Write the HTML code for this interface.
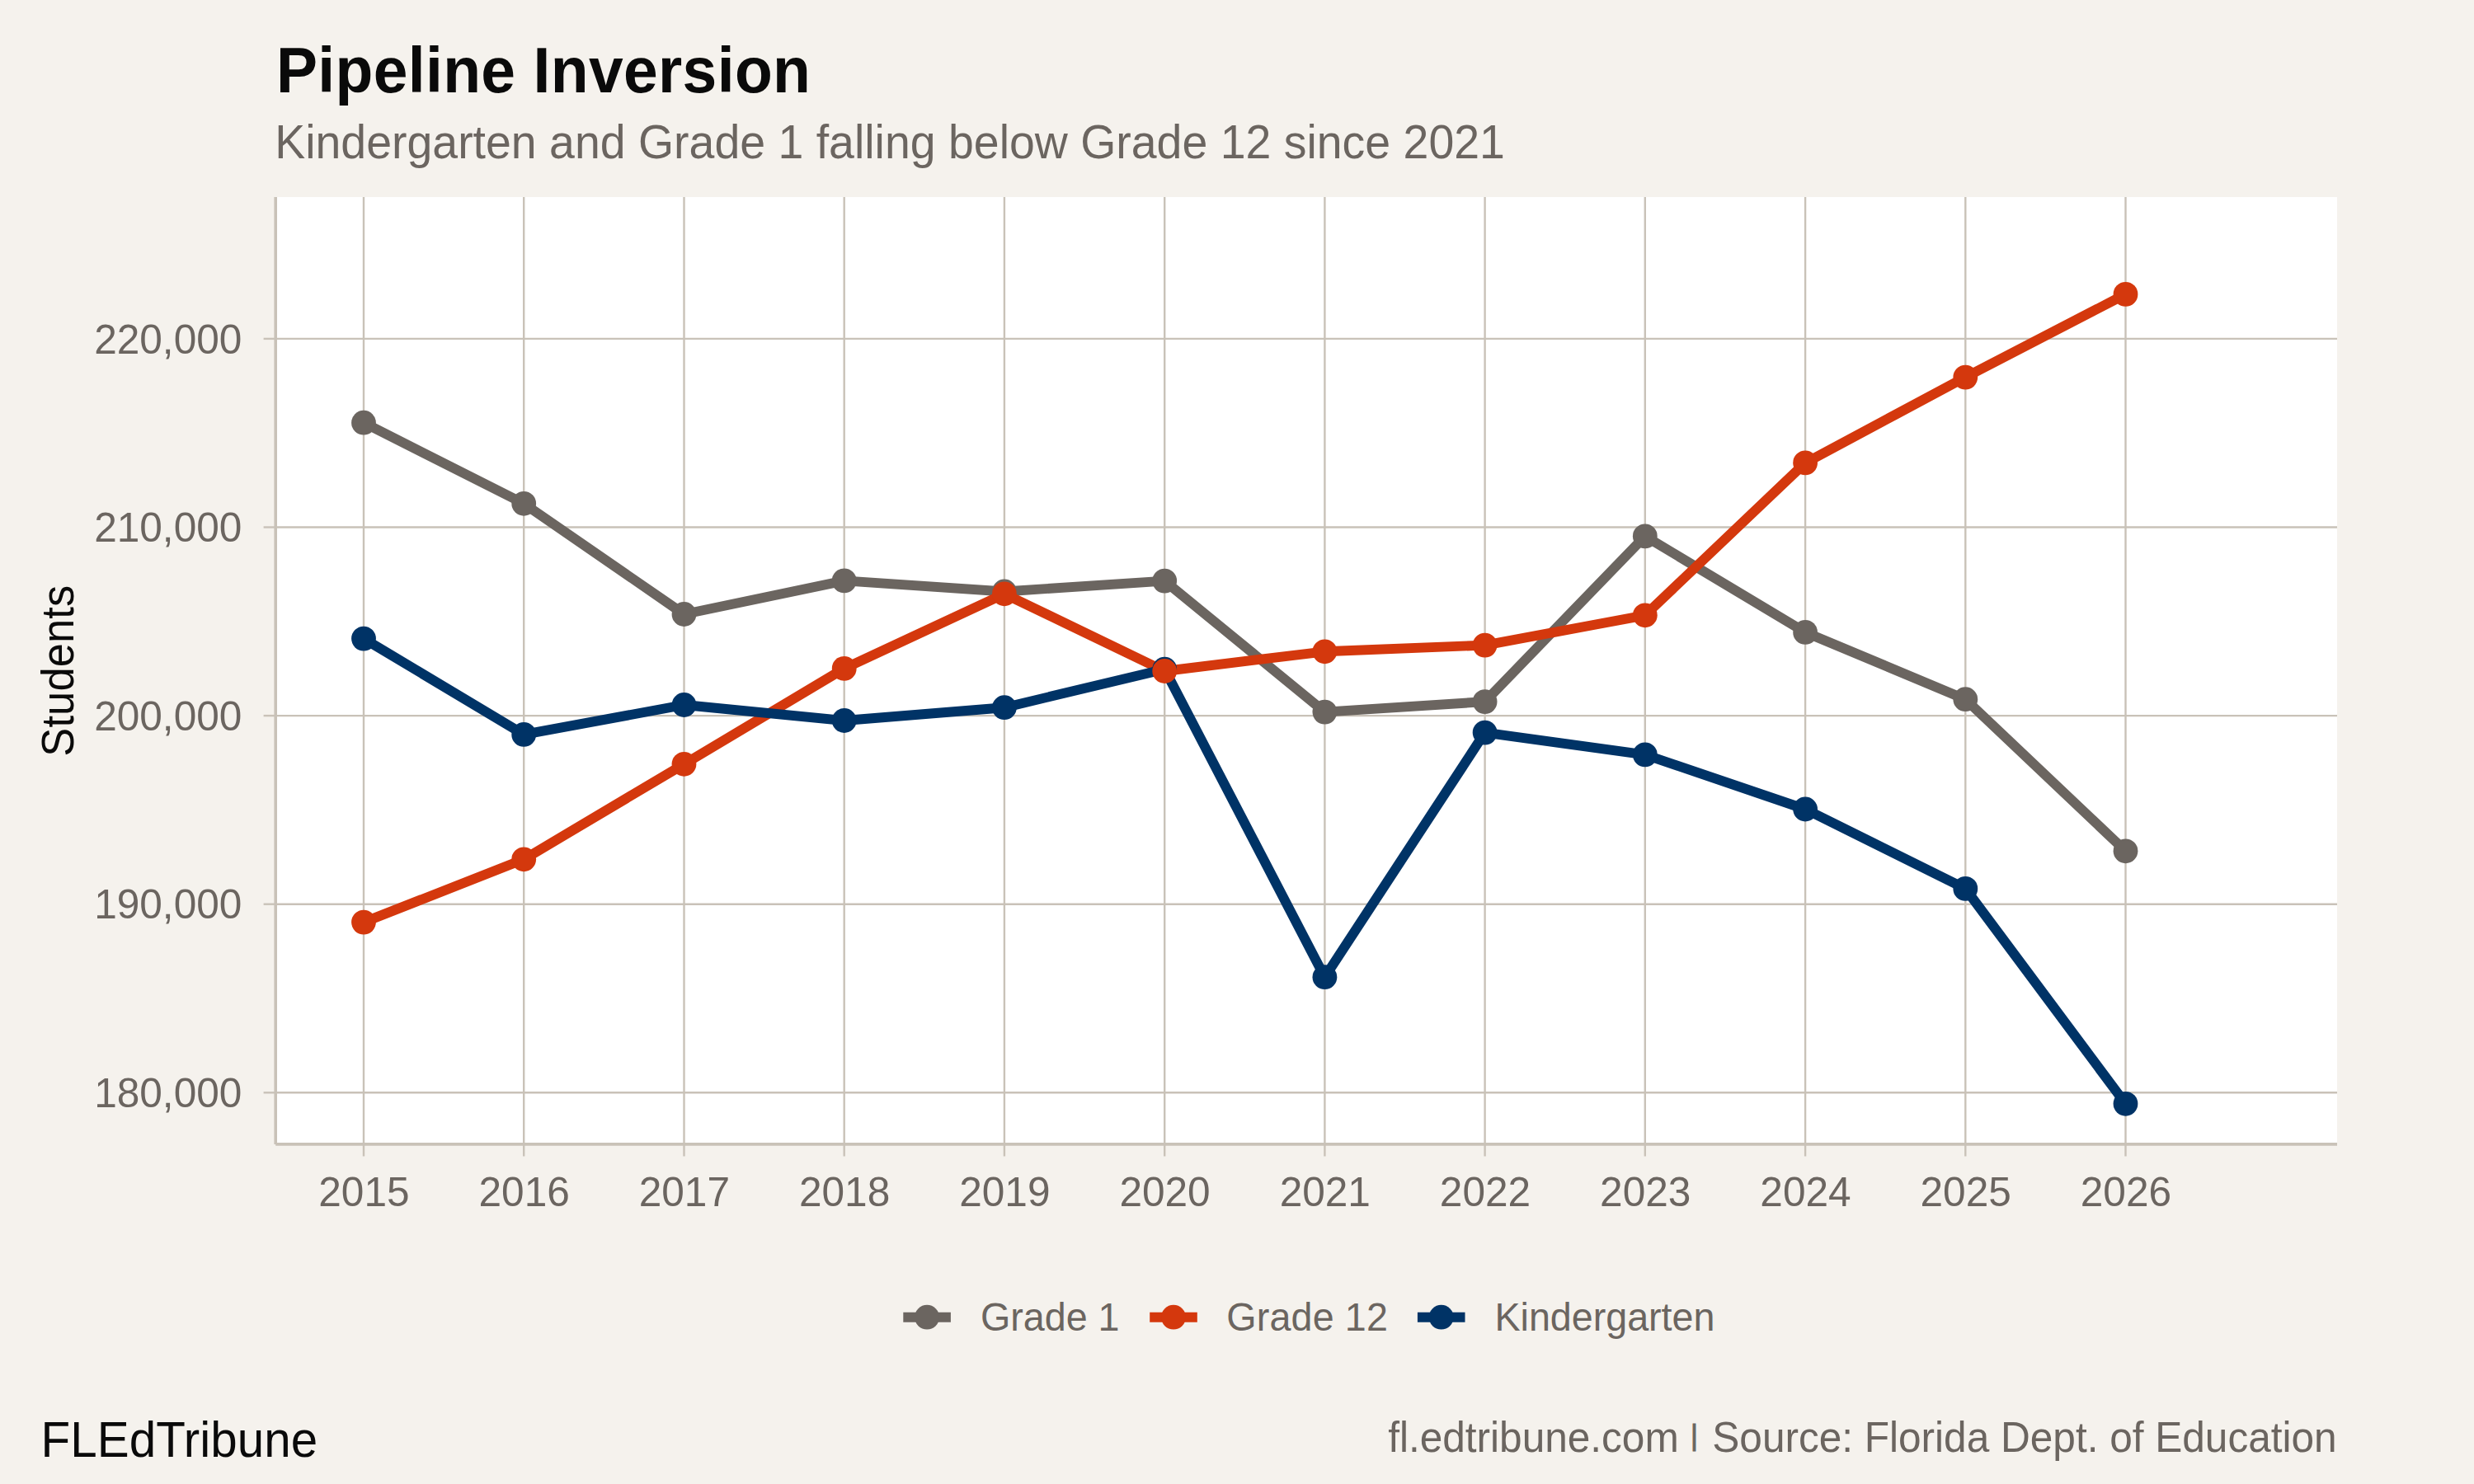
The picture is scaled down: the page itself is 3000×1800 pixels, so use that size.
<!DOCTYPE html>
<html lang="en"><head><meta charset="utf-8"><title>Pipeline Inversion</title>
<style>
html,body{margin:0;padding:0;background:#F5F2ED;}
body{width:3000px;height:1800px;overflow:hidden;font-family:"Liberation Sans", Arial, Helvetica, sans-serif;}
svg{display:block;position:absolute;left:0;top:0;}
text{font-family:"Liberation Sans", Arial, Helvetica, sans-serif;white-space:pre;}
</style></head><body>
<svg width="3000" height="1800" viewBox="0 0 3000 1800">
<rect x="0" y="0" width="3000" height="1800" fill="#F5F2ED"/>
<rect x="334.2" y="239.0" width="2499.8" height="1148.9" fill="#FFFFFF"/>

<g stroke="#C9C2B8" stroke-width="2.4" fill="none">
<line x1="334.2" x2="2834.0" y1="410.9" y2="410.9"/>
<line x1="334.2" x2="2834.0" y1="639.5" y2="639.5"/>
<line x1="334.2" x2="2834.0" y1="868.1" y2="868.1"/>
<line x1="334.2" x2="2834.0" y1="1096.7" y2="1096.7"/>
<line x1="334.2" x2="2834.0" y1="1325.3" y2="1325.3"/>
<line x1="441.0" x2="441.0" y1="239.0" y2="1387.9"/>
<line x1="635.2" x2="635.2" y1="239.0" y2="1387.9"/>
<line x1="829.5" x2="829.5" y1="239.0" y2="1387.9"/>
<line x1="1023.7" x2="1023.7" y1="239.0" y2="1387.9"/>
<line x1="1217.9" x2="1217.9" y1="239.0" y2="1387.9"/>
<line x1="1412.2" x2="1412.2" y1="239.0" y2="1387.9"/>
<line x1="1606.4" x2="1606.4" y1="239.0" y2="1387.9"/>
<line x1="1800.6" x2="1800.6" y1="239.0" y2="1387.9"/>
<line x1="1994.8" x2="1994.8" y1="239.0" y2="1387.9"/>
<line x1="2189.1" x2="2189.1" y1="239.0" y2="1387.9"/>
<line x1="2383.3" x2="2383.3" y1="239.0" y2="1387.9"/>
<line x1="2577.5" x2="2577.5" y1="239.0" y2="1387.9"/>
</g>
<polyline points="441.0,512.7 635.2,610.8 829.5,745.0 1023.7,704.4 1217.9,717.5 1412.2,704.6 1606.4,863.6 1800.6,851.1 1994.8,650.4 2189.1,766.9 2383.3,848.2 2577.5,1032.3" fill="none" stroke="#6B6560" stroke-width="11.9" stroke-linejoin="round" stroke-linecap="butt"/>
<polyline points="441.0,1118.6 635.2,1042.3 829.5,926.8 1023.7,810.9 1217.9,720.3 1412.2,814.0 1606.4,790.3 1800.6,782.6 1994.8,746.3 2189.1,561.4 2383.3,457.6 2577.5,356.9" fill="none" stroke="#D4380D" stroke-width="11.9" stroke-linejoin="round" stroke-linecap="butt"/>
<polyline points="441.0,774.6 635.2,890.9 829.5,855.0 1023.7,874.0 1217.9,858.2 1412.2,811.7 1606.4,1185.2 1800.6,888.6 1994.8,915.4 2189.1,981.5 2383.3,1077.9 2577.5,1338.8" fill="none" stroke="#003366" stroke-width="11.9" stroke-linejoin="round" stroke-linecap="butt"/>
<g fill="#003366"><circle cx="441.0" cy="774.6" r="14.9"/><circle cx="635.2" cy="890.9" r="14.9"/><circle cx="829.5" cy="855.0" r="14.9"/><circle cx="1023.7" cy="874.0" r="14.9"/><circle cx="1217.9" cy="858.2" r="14.9"/><circle cx="1412.2" cy="811.7" r="14.9"/><circle cx="1606.4" cy="1185.2" r="14.9"/><circle cx="1800.6" cy="888.6" r="14.9"/><circle cx="1994.8" cy="915.4" r="14.9"/><circle cx="2189.1" cy="981.5" r="14.9"/><circle cx="2383.3" cy="1077.9" r="14.9"/><circle cx="2577.5" cy="1338.8" r="14.9"/></g>
<g fill="#6B6560"><circle cx="441.0" cy="512.7" r="14.9"/><circle cx="635.2" cy="610.8" r="14.9"/><circle cx="829.5" cy="745.0" r="14.9"/><circle cx="1023.7" cy="704.4" r="14.9"/><circle cx="1217.9" cy="717.5" r="14.9"/><circle cx="1412.2" cy="704.6" r="14.9"/><circle cx="1606.4" cy="863.6" r="14.9"/><circle cx="1800.6" cy="851.1" r="14.9"/><circle cx="1994.8" cy="650.4" r="14.9"/><circle cx="2189.1" cy="766.9" r="14.9"/><circle cx="2383.3" cy="848.2" r="14.9"/><circle cx="2577.5" cy="1032.3" r="14.9"/></g>
<g fill="#D4380D"><circle cx="441.0" cy="1118.6" r="14.9"/><circle cx="635.2" cy="1042.3" r="14.9"/><circle cx="829.5" cy="926.8" r="14.9"/><circle cx="1023.7" cy="810.9" r="14.9"/><circle cx="1217.9" cy="720.3" r="14.9"/><circle cx="1412.2" cy="814.0" r="14.9"/><circle cx="1606.4" cy="790.3" r="14.9"/><circle cx="1800.6" cy="782.6" r="14.9"/><circle cx="1994.8" cy="746.3" r="14.9"/><circle cx="2189.1" cy="561.4" r="14.9"/><circle cx="2383.3" cy="457.6" r="14.9"/><circle cx="2577.5" cy="356.9" r="14.9"/></g>
<g stroke="#C9C2B8" fill="none">
<line x1="334.2" x2="334.2" y1="239.0" y2="1387.9" stroke-width="3.6"/>
<line x1="334.2" x2="2834.0" y1="1387.9" y2="1387.9" stroke-width="3.6"/>
<line x1="319.6" x2="334.2" y1="410.9" y2="410.9" stroke-width="2.4"/>
<line x1="319.6" x2="334.2" y1="639.5" y2="639.5" stroke-width="2.4"/>
<line x1="319.6" x2="334.2" y1="868.1" y2="868.1" stroke-width="2.4"/>
<line x1="319.6" x2="334.2" y1="1096.7" y2="1096.7" stroke-width="2.4"/>
<line x1="319.6" x2="334.2" y1="1325.3" y2="1325.3" stroke-width="2.4"/>
<line x1="441.0" x2="441.0" y1="1387.9" y2="1402.5" stroke-width="2.4"/>
<line x1="635.2" x2="635.2" y1="1387.9" y2="1402.5" stroke-width="2.4"/>
<line x1="829.5" x2="829.5" y1="1387.9" y2="1402.5" stroke-width="2.4"/>
<line x1="1023.7" x2="1023.7" y1="1387.9" y2="1402.5" stroke-width="2.4"/>
<line x1="1217.9" x2="1217.9" y1="1387.9" y2="1402.5" stroke-width="2.4"/>
<line x1="1412.2" x2="1412.2" y1="1387.9" y2="1402.5" stroke-width="2.4"/>
<line x1="1606.4" x2="1606.4" y1="1387.9" y2="1402.5" stroke-width="2.4"/>
<line x1="1800.6" x2="1800.6" y1="1387.9" y2="1402.5" stroke-width="2.4"/>
<line x1="1994.8" x2="1994.8" y1="1387.9" y2="1402.5" stroke-width="2.4"/>
<line x1="2189.1" x2="2189.1" y1="1387.9" y2="1402.5" stroke-width="2.4"/>
<line x1="2383.3" x2="2383.3" y1="1387.9" y2="1402.5" stroke-width="2.4"/>
<line x1="2577.5" x2="2577.5" y1="1387.9" y2="1402.5" stroke-width="2.4"/>
</g>
<text transform="translate(334.98,112) scale(1,1.04)" font-size="75" font-weight="bold" letter-spacing="0.361" fill="#0A0A0A">Pipeline Inversion</text>
<text transform="translate(333.24,192) scale(1,1.04)" font-size="55.42" letter-spacing="0.019" fill="#6B6560">Kindergarten and Grade 1 falling below Grade 12 since 2021</text>
<g font-size="49.58" fill="#6B6560">
<text transform="translate(114.14,428.6) scale(1,1.0)">220,000</text>
<text transform="translate(114.14,657.2) scale(1,1.0)">210,000</text>
<text transform="translate(114.14,885.8) scale(1,1.0)">200,000</text>
<text transform="translate(114.14,1114.4) scale(1,1.0)">190,000</text>
<text transform="translate(114.14,1343.0) scale(1,1.0)">180,000</text>
</g>
<g font-size="49.58" fill="#6B6560">
<text transform="translate(386.25,1463.3) scale(1,1.0)">2015</text>
<text transform="translate(580.48,1463.3) scale(1,1.0)">2016</text>
<text transform="translate(774.71,1463.3) scale(1,1.0)">2017</text>
<text transform="translate(968.94,1463.3) scale(1,1.0)">2018</text>
<text transform="translate(1163.17,1463.3) scale(1,1.0)">2019</text>
<text transform="translate(1357.40,1463.3) scale(1,1.0)">2020</text>
<text transform="translate(1551.63,1463.3) scale(1,1.0)">2021</text>
<text transform="translate(1745.86,1463.3) scale(1,1.0)">2022</text>
<text transform="translate(1940.09,1463.3) scale(1,1.0)">2023</text>
<text transform="translate(2134.32,1463.3) scale(1,1.0)">2024</text>
<text transform="translate(2328.55,1463.3) scale(1,1.0)">2025</text>
<text transform="translate(2522.78,1463.3) scale(1,1.0)">2026</text>
</g>
<text transform="translate(89.1,813.4) rotate(-90) scale(1,1.04)" x="-104.29" y="0" font-size="52.5" letter-spacing="0.108" fill="#0A0A0A">Students</text>
<line x1="1095.3" x2="1152.9" y1="1597.7" y2="1597.7" stroke="#6B6560" stroke-width="11.9"/>
<circle cx="1124.1" cy="1597.7" r="14.9" fill="#6B6560"/>
<text transform="translate(1188.91,1614) scale(1,1.04)" font-size="46.67" letter-spacing="-0.006" fill="#6B6560">Grade 1</text>
<line x1="1394.2" x2="1451.8" y1="1597.7" y2="1597.7" stroke="#D4380D" stroke-width="11.9"/>
<circle cx="1423.0" cy="1597.7" r="14.9" fill="#D4380D"/>
<text transform="translate(1487.36,1614) scale(1,1.04)" font-size="46.67" letter-spacing="0.133" fill="#6B6560">Grade 12</text>
<line x1="1718.9" x2="1776.5" y1="1597.7" y2="1597.7" stroke="#003366" stroke-width="11.9"/>
<circle cx="1747.7" cy="1597.7" r="14.9" fill="#003366"/>
<text transform="translate(1812.43,1614) scale(1,1.04)" font-size="46.67" letter-spacing="-0.019" fill="#6B6560">Kindergarten</text>
<text transform="translate(1683.19,1760.9) scale(1,1.04)" font-size="49.58" letter-spacing="-0.015" fill="#6B6560">fl.edtribune.com <tspan font-size="34.26" dy="-7.84" dx="0.45" stroke="#6B6560" stroke-width="1.0">|</tspan><tspan dy="7.84" dx="3.75"> Source: Florida Dept. of Education</tspan></text>
<text transform="translate(49.62,1767.3) scale(1,1.04)" font-size="58.33" letter-spacing="0.053" fill="#0A0A0A">FLEdTribune</text>
</svg></body></html>
